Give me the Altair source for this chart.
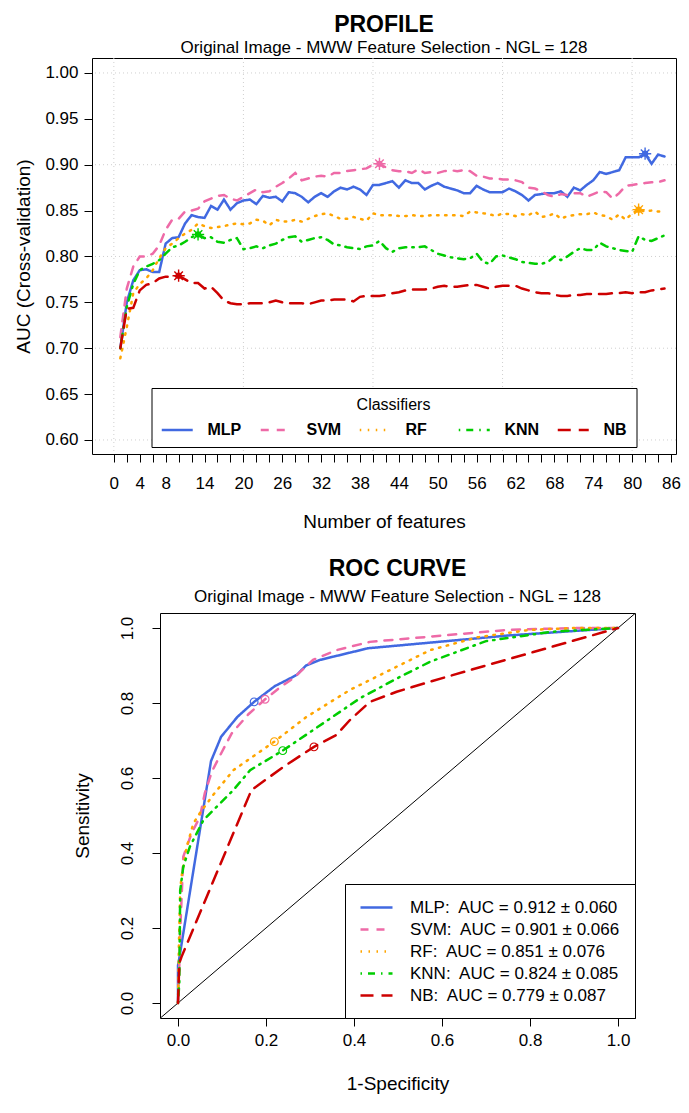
import altair as alt
import pandas as pd

FONT = "Liberation Sans"

classifiers = ["MLP", "SVM", "RF", "KNN", "NB"]
line_colors = ["#4169E1", "#EE6AA7", "#FFA500", "#00CD00", "#CD0000"]
dash_styles = [[1, 0], [8, 8], [1.5, 6.5], [1.5, 6, 7, 6], [13, 8]]

# ---------------- PROFILE data ----------------
n_features = list(range(1, 86))
auc_mlp = [0.700, 0.750, 0.774, 0.785, 0.786, 0.783, 0.783, 0.814, 0.820, 0.821,
           0.836, 0.845, 0.843, 0.842, 0.855, 0.851, 0.862, 0.851, 0.858, 0.861,
           0.862, 0.857, 0.866, 0.864, 0.865, 0.860, 0.870, 0.869, 0.865, 0.859,
           0.865, 0.869, 0.865, 0.871, 0.875, 0.873, 0.876, 0.873, 0.867, 0.878,
           0.878, 0.880, 0.882, 0.875, 0.883, 0.880, 0.880, 0.873, 0.877, 0.880,
           0.876, 0.874, 0.872, 0.869, 0.869, 0.877, 0.873, 0.870, 0.870, 0.870,
           0.874, 0.871, 0.867, 0.861, 0.867, 0.868, 0.869, 0.869, 0.871, 0.865,
           0.875, 0.872, 0.878, 0.883, 0.892, 0.890, 0.892, 0.894, 0.908, 0.908,
           0.908, 0.912, 0.901, 0.911, 0.909]
auc_svm = [0.712, 0.765, 0.789, 0.800, 0.800, 0.803, 0.812, 0.829, 0.840, 0.841,
           0.849, 0.850, 0.852, 0.860, 0.863, 0.866, 0.867, 0.863, 0.861, 0.865,
           0.869, 0.873, 0.870, 0.871, 0.876, 0.880, 0.885, 0.891, 0.883, 0.885,
           0.887, 0.888, 0.887, 0.891, 0.891, 0.893, 0.894, 0.895, 0.896, 0.900,
           0.901, 0.897, 0.894, 0.893, 0.893, 0.891, 0.895, 0.891, 0.892, 0.891,
           0.893, 0.894, 0.893, 0.894, 0.893, 0.888, 0.887, 0.885, 0.885, 0.884,
           0.884, 0.883, 0.881, 0.875, 0.874, 0.871, 0.867, 0.865, 0.868, 0.867,
           0.869, 0.869, 0.865, 0.868, 0.871, 0.870, 0.863, 0.869, 0.877, 0.878,
           0.879, 0.880, 0.881, 0.881, 0.883]
auc_rf = [0.689, 0.723, 0.760, 0.770, 0.776, 0.785, 0.798, 0.809, 0.814, 0.820,
          0.825, 0.829, 0.836, 0.833, 0.831, 0.832, 0.833, 0.835, 0.836, 0.835,
          0.836, 0.840, 0.839, 0.834, 0.840, 0.838, 0.838, 0.840, 0.838, 0.841,
          0.844, 0.846, 0.847, 0.844, 0.841, 0.841, 0.843, 0.841, 0.839, 0.847,
          0.845, 0.845, 0.845, 0.844, 0.844, 0.845, 0.844, 0.844, 0.845, 0.845,
          0.845, 0.845, 0.845, 0.844, 0.849, 0.848, 0.847, 0.846, 0.844, 0.847,
          0.846, 0.844, 0.846, 0.845, 0.849, 0.843, 0.844, 0.847, 0.841, 0.844,
          0.845, 0.846, 0.846, 0.848, 0.845, 0.844, 0.840, 0.846, 0.840, 0.847,
          0.851, 0.849, 0.850, 0.849, 0.849]
auc_knn = [0.700, 0.745, 0.770, 0.785, 0.789, 0.792, 0.796, 0.803, 0.810, 0.812,
           0.816, 0.821, 0.824, 0.820, 0.821, 0.816, 0.815, 0.818, 0.820, 0.808,
           0.809, 0.811, 0.809, 0.812, 0.814, 0.818, 0.821, 0.822, 0.816, 0.818,
           0.820, 0.821, 0.818, 0.813, 0.812, 0.810, 0.809, 0.808, 0.811, 0.812,
           0.817, 0.809, 0.805, 0.809, 0.810, 0.810, 0.810, 0.811, 0.807, 0.803,
           0.801, 0.799, 0.798, 0.797, 0.798, 0.803, 0.794, 0.792, 0.800, 0.801,
           0.799, 0.797, 0.794, 0.793, 0.792, 0.792, 0.794, 0.800, 0.796, 0.800,
           0.805, 0.809, 0.807, 0.807, 0.815, 0.811, 0.809, 0.807, 0.806, 0.805,
           0.822, 0.818, 0.817, 0.820, 0.823]
auc_nb = [0.700, 0.743, 0.744, 0.763, 0.769, 0.771, 0.776, 0.778, 0.778, 0.779,
          0.775, 0.771, 0.771, 0.765, 0.767, 0.760, 0.752, 0.749, 0.748, 0.748,
          0.749, 0.749, 0.749, 0.750, 0.752, 0.750, 0.749, 0.749, 0.749, 0.748,
          0.750, 0.752, 0.752, 0.753, 0.753, 0.753, 0.751, 0.756, 0.757, 0.757,
          0.757, 0.758, 0.760, 0.761, 0.763, 0.764, 0.764, 0.764, 0.765, 0.767,
          0.768, 0.767, 0.767, 0.768, 0.769, 0.769, 0.767, 0.765, 0.767, 0.768,
          0.768, 0.768, 0.765, 0.763, 0.761, 0.760, 0.760, 0.758, 0.757, 0.757,
          0.758, 0.758, 0.759, 0.759, 0.759, 0.759, 0.760, 0.760, 0.761, 0.760,
          0.761, 0.761, 0.763, 0.764, 0.765]
best_n = [82, 41, 81, 13, 10]
best_auc = [0.912, 0.901, 0.851, 0.824, 0.779]

x_ticks_top = list(range(0, 87, 2))
x_labels_top = [0, 4, 8, 14, 20, 26, 32, 38, 44, 50, 56, 62, 68, 74, 80, 86]
y_ticks_top = [0.60, 0.65, 0.70, 0.75, 0.80, 0.85, 0.90, 0.95, 1.00]
grid_x_top = [0, 20, 40, 60, 80]
grid_y_top = [0.6, 0.7, 0.8, 0.9, 1.0]

# ---------------- ROC data ----------------
roc_fpr_mlp = [0, 0, 0.003, 0.075, 0.098, 0.135, 0.173, 0.22, 0.247, 0.27, 0.291, 0.323, 0.432, 0.573, 0.75, 1.0]
roc_tpr_mlp = [0, 0.10, 0.12, 0.645, 0.71, 0.763, 0.803, 0.845, 0.861, 0.875, 0.90, 0.915, 0.946, 0.961, 0.98, 1.0]
roc_fpr_svm = [0, 0.003, 0.005, 0.012, 0.03, 0.05, 0.061, 0.077, 0.10, 0.122, 0.16, 0.198, 0.23, 0.262, 0.307, 0.36, 0.436, 0.573, 0.75, 0.9, 1.0]
roc_tpr_svm = [0, 0.10, 0.19, 0.39, 0.45, 0.497, 0.56, 0.617, 0.67, 0.719, 0.77, 0.81, 0.84, 0.866, 0.915, 0.941, 0.963, 0.977, 0.995, 1.0, 1.0]
roc_fpr_rf = [0, 0.002, 0.005, 0.008, 0.02, 0.035, 0.05, 0.08, 0.126, 0.219, 0.292, 0.391, 0.482, 0.573, 0.68, 0.8, 0.9, 1.0]
roc_tpr_rf = [0, 0.15, 0.30, 0.337, 0.417, 0.479, 0.507, 0.555, 0.621, 0.697, 0.763, 0.835, 0.888, 0.941, 0.975, 0.995, 1.0, 1.0]
roc_fpr_knn = [0, 0.003, 0.005, 0.012, 0.027, 0.058, 0.103, 0.126, 0.164, 0.238, 0.33, 0.414, 0.505, 0.573, 0.7, 0.85, 1.0]
roc_tpr_knn = [0, 0.053, 0.30, 0.363, 0.417, 0.488, 0.541, 0.568, 0.621, 0.673, 0.746, 0.813, 0.87, 0.91, 0.965, 0.99, 1.0]
roc_fpr_nb = [0, 0.003, 0.008, 0.167, 0.24, 0.309, 0.36, 0.391, 0.436, 0.497, 0.573, 0.7, 0.85, 1.0]
roc_tpr_nb = [0, 0.106, 0.123, 0.568, 0.63, 0.683, 0.715, 0.755, 0.803, 0.83, 0.857, 0.90, 0.95, 1.0]
auc_mean = [0.912, 0.901, 0.851, 0.824, 0.779]
auc_sd = [0.060, 0.066, 0.076, 0.085, 0.087]
best_fpr = [0.173, 0.198, 0.219, 0.238, 0.309]
best_tpr = [0.803, 0.810, 0.697, 0.673, 0.683]
roc_ticks = [0.0, 0.2, 0.4, 0.6, 0.8, 1.0]
diag_vals = [-0.1, 1.1]

# ---------------- build tables ----------------
series = [auc_mlp, auc_svm, auc_rf, auc_knn, auc_nb]
prof_rows = []
for c, s in zip(classifiers, series):
    for n, v in zip(n_features, s):
        prof_rows.append({"n": n, "auc": v, "clf": c})
prof_df = pd.DataFrame(prof_rows)
best_df = pd.DataFrame({"n": best_n, "auc": best_auc, "col": line_colors})
gx_df = pd.DataFrame({"g": grid_x_top})
gy_df = pd.DataFrame({"g": grid_y_top})

roc_labels = [f"{c}:\u00a0 AUC = {m:.3f} \u00b1 {s:.3f}" for c, m, s in zip(classifiers, auc_mean, auc_sd)]
roc_sets = [(roc_fpr_mlp, roc_tpr_mlp), (roc_fpr_svm, roc_tpr_svm), (roc_fpr_rf, roc_tpr_rf),
            (roc_fpr_knn, roc_tpr_knn), (roc_fpr_nb, roc_tpr_nb)]
roc_rows = []
for lab, (fx, ty) in zip(roc_labels, roc_sets):
    for i, (a, b) in enumerate(zip(fx, ty)):
        roc_rows.append({"fpr": a, "tpr": b, "lab": lab, "i": i})
roc_df = pd.DataFrame(roc_rows)
roc_best_df = pd.DataFrame({"fpr": best_fpr, "tpr": best_tpr, "col": line_colors})
diag_df = pd.DataFrame({"v": diag_vals})

# legend line symbol: starts at the entry's left edge, 4 "radii" long
legend_line = "M-1,0L3,0"

# ---------------- PROFILE chart ----------------
xs_top = alt.Scale(domain=[-3.37, 86.77], nice=False, zero=False)
ys_top = alt.Scale(domain=[0.5847, 1.0163], nice=False, zero=False)
label_expr = f"indexof({x_labels_top}, datum.value) >= 0 ? datum.label : ''"
x_axis_top = alt.Axis(values=x_ticks_top, labelExpr=label_expr, title="Number of features",
                      grid=False, domain=False, tickSize=8, tickColor="black", labelColor="black",
                      labelFontSize=17, titleFontSize=19, titleFontWeight="normal", titleColor="black",
                      labelPadding=13, titlePadding=21, labelFont=FONT, titleFont=FONT)
y_axis_top = alt.Axis(values=y_ticks_top, format=".2f", title="AUC (Cross-validation)",
                      grid=False, domain=False, tickSize=8, tickColor="black", labelColor="black",
                      labelFontSize=17, titleFontSize=19, titleFontWeight="normal", titleColor="black",
                      labelPadding=6, titlePadding=11, labelFont=FONT, titleFont=FONT)

legend_top = alt.Legend(title="Classifiers", orient="none", legendX=59.5, legendY=330,
                        direction="horizontal", columns=5, titleAnchor="middle", titleOrient="top",
                        titleFontWeight="normal", titleFontSize=16, titleFont=FONT, titleColor="black",
                        titlePadding=8, labelFontWeight="bold", labelFontSize=16, labelFont=FONT,
                        labelColor="black", labelOffset=29, symbolType=legend_line, symbolSize=240,
                        symbolStrokeWidth=2.5, columnPadding=13, padding=9, strokeColor="black",
                        fillColor="white", gridAlign="all", cornerRadius=0)

vgrid = alt.Chart(gx_df).mark_rule(color="#cfcfcf", strokeDash=[1, 3], strokeWidth=1).encode(
    x=alt.X("g:Q", scale=xs_top, axis=x_axis_top))
hgrid = alt.Chart(gy_df).mark_rule(color="#cfcfcf", strokeDash=[1, 3], strokeWidth=1).encode(
    y=alt.Y("g:Q", scale=ys_top, axis=y_axis_top))
lines = alt.Chart(prof_df).mark_line(strokeWidth=2.5, strokeCap="round").encode(
    x=alt.X("n:Q", scale=xs_top, axis=x_axis_top),
    y=alt.Y("auc:Q", scale=ys_top, axis=y_axis_top),
    color=alt.Color("clf:N", scale=alt.Scale(domain=classifiers, range=line_colors), legend=legend_top),
    strokeDash=alt.StrokeDash("clf:N", scale=alt.Scale(domain=classifiers, range=dash_styles), legend=legend_top),
)
star_dot = alt.Chart(best_df).mark_point(shape="circle", filled=True, size=40, opacity=1).encode(
    x=alt.X("n:Q", scale=xs_top, axis=x_axis_top),
    y=alt.Y("auc:Q", scale=ys_top, axis=y_axis_top),
    color=alt.Color("col:N", scale=None))
asterisk = "M-1,0L1,0M0,-1L0,1M-0.7,-0.7L0.7,0.7M-0.7,0.7L0.7,-0.7"
star_ast = alt.Chart(best_df).mark_point(shape=asterisk, filled=False, size=150, strokeWidth=1.4, opacity=1).encode(
    x=alt.X("n:Q", scale=xs_top, axis=x_axis_top),
    y=alt.Y("auc:Q", scale=ys_top, axis=y_axis_top),
    color=alt.Color("col:N", scale=None))

top = alt.layer(vgrid, hgrid, lines, star_dot, star_ast).properties(
    width=584, height=396,
    title=alt.Title("PROFILE", subtitle="Original Image - MWW Feature Selection - NGL = 128",
                    fontSize=23, fontWeight="bold", font=FONT, color="black",
                    subtitleFontSize=17, subtitleFont=FONT, subtitleColor="black",
                    subtitlePadding=3, offset=2, anchor="middle", frame="group"))

# ---------------- ROC chart ----------------
xs_roc = alt.Scale(domain=[-0.0409, 1.0386], nice=False, zero=False)
ys_roc = alt.Scale(domain=[-0.04, 1.04], nice=False, zero=False)
x_axis_roc = alt.Axis(values=roc_ticks, format=".1f", title="1-Specificity", grid=False, domain=False,
                      tickSize=8, tickColor="black", labelColor="black", labelFontSize=17,
                      titleFontSize=19, titleFontWeight="normal", titleColor="black",
                      labelPadding=6, titlePadding=26, labelFont=FONT, titleFont=FONT)
y_axis_roc = alt.Axis(values=roc_ticks, format=".1f", title="Sensitivity", grid=False, domain=False,
                      tickSize=8, tickColor="black", labelColor="black", labelFontSize=17,
                      labelAngle=270, labelAlign="center", labelBaseline="bottom",
                      titleFontSize=19, titleFontWeight="normal", titleColor="black",
                      labelPadding=16, titlePadding=26, labelFont=FONT, titleFont=FONT)
legend_roc = alt.Legend(title=None, orient="bottom-right", offset=0, labelFontSize=17, labelFont=FONT,
                        labelColor="black", labelOffset=32, symbolType=legend_line, symbolSize=256,
                        symbolStrokeWidth=2.5, rowPadding=4, padding=14, strokeColor="black",
                        fillColor="white", cornerRadius=0, labelLimit=400)

diag = alt.Chart(diag_df).mark_line(color="black", strokeWidth=1, clip=True).encode(
    x=alt.X("v:Q", scale=xs_roc, axis=x_axis_roc),
    y=alt.Y("v:Q", scale=ys_roc, axis=y_axis_roc))
roc_lines = alt.Chart(roc_df).mark_line(strokeWidth=2.5, strokeCap="round").encode(
    x=alt.X("fpr:Q", scale=xs_roc, axis=x_axis_roc),
    y=alt.Y("tpr:Q", scale=ys_roc, axis=y_axis_roc),
    order=alt.Order("i:Q"),
    color=alt.Color("lab:N", scale=alt.Scale(domain=roc_labels, range=line_colors), legend=legend_roc),
    strokeDash=alt.StrokeDash("lab:N", scale=alt.Scale(domain=roc_labels, range=dash_styles), legend=legend_roc),
)
roc_pts = alt.Chart(roc_best_df).mark_point(shape="circle", filled=False, size=60, strokeWidth=1.2, opacity=1).encode(
    x=alt.X("fpr:Q", scale=xs_roc, axis=x_axis_roc),
    y=alt.Y("tpr:Q", scale=ys_roc, axis=y_axis_roc),
    color=alt.Color("col:N", scale=None))

roc = alt.layer(diag, roc_lines, roc_pts).properties(
    width=475, height=405,
    title=alt.Title("ROC CURVE", subtitle="Original Image - MWW Feature Selection - NGL = 128",
                    fontSize=23, fontWeight="bold", font=FONT, color="black",
                    subtitleFontSize=17, subtitleFont=FONT, subtitleColor="black",
                    subtitlePadding=8, offset=8, anchor="middle", frame="group"))

spacer = alt.Chart(pd.DataFrame({"a": [0]})).mark_point(opacity=0).encode(
    x=alt.X("a:Q", axis=None), y=alt.Y("a:Q", axis=None)
).properties(width=67.5, height=405, view=alt.ViewBackground(stroke=None))

bottom = alt.hconcat(spacer, roc, spacing=0, bounds="flush").resolve_scale(
    color="independent", strokeDash="independent").resolve_legend(
    color="independent", strokeDash="independent")

chart = alt.vconcat(top, bottom, spacing=159, bounds="flush").resolve_scale(
    color="independent", strokeDash="independent"
).resolve_legend(color="independent", strokeDash="independent").properties(
    padding={"left": 6, "top": 5, "right": 0, "bottom": 0}
).configure(font=FONT).configure_view(stroke="black", strokeWidth=1)

chart.save("out.html", embed_options={"renderer": "svg", "actions": False})
